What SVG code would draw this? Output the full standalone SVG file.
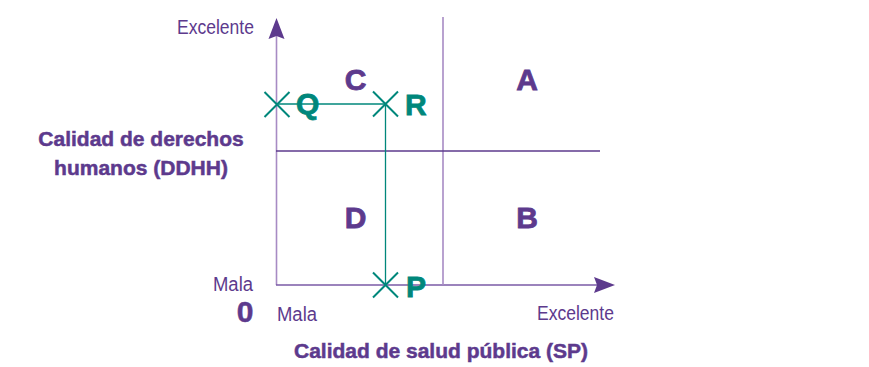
<svg xmlns="http://www.w3.org/2000/svg" width="869" height="367" viewBox="0 0 869 367">
<style>
.t{font-family:"Liberation Sans",Arial,sans-serif;fill:#5d3a8d}
.lt{font-size:20px}
.b{font-weight:bold;stroke:#5d3a8d;stroke-width:0.5}
.q{font-family:"Liberation Sans",Arial,sans-serif;font-weight:bold;font-size:30px;fill:#5d3a8d;stroke:#5d3a8d;stroke-width:0.8}
.tl{font-family:"Liberation Sans",Arial,sans-serif;font-weight:bold;font-size:30px;fill:#00877b;stroke:#00877b;stroke-width:0.8}
.mk{stroke:#00877b;stroke-width:2;fill:none}
.tline{stroke:#00877b;stroke-width:1.3;fill:none}
</style>
<rect width="869" height="367" fill="#fff"/>
<g id="axes">
<line x1="276.5" y1="36" x2="276.5" y2="285" stroke="#a78bc4" stroke-width="1.6"/>
<path d="M276.5 18 L284.5 39 L276.5 36 L268.5 39 Z" fill="#5d3a8d"/>
<line x1="276" y1="285" x2="598" y2="285" stroke="#7a5aa6" stroke-width="1.6"/>
<path d="M615 285 L594 277 L597 285 L594 293 Z" fill="#5d3a8d"/>
<line x1="443" y1="17" x2="443" y2="285" stroke="#a78bc4" stroke-width="1.6"/>
<line x1="276" y1="151" x2="600" y2="151" stroke="#5d3a8d" stroke-width="1.3"/>
</g>
<g id="connectors">
<line class="tline" x1="277" y1="104" x2="385.5" y2="104"/>
<line class="tline" x1="385.5" y1="104" x2="385.5" y2="285"/>
</g>
<g id="node-Q">
<path class="mk" d="M264.5 92 L289.5 117 M289.5 92 L264.5 117"/>
<text class="tl" x="296" y="114">Q</text>
</g>
<g id="node-R">
<path class="mk" d="M373 91.5 L398 116.5 M398 91.5 L373 116.5"/>
<text class="tl" x="405" y="115">R</text>
</g>
<g id="node-P">
<path class="mk" d="M373 272.5 L398 297.5 M398 272.5 L373 297.5"/>
<text class="tl" x="406" y="297">P</text>
</g>
<g id="quadrants">
<text class="q" x="355.5" y="90" text-anchor="middle">C</text>
<text class="q" x="527" y="90" text-anchor="middle">A</text>
<text class="q" x="355.5" y="228" text-anchor="middle">D</text>
<text class="q" x="527" y="228" text-anchor="middle">B</text>
</g>
<g id="labels">
<text class="t lt" x="177" y="34" textLength="77" lengthAdjust="spacingAndGlyphs">Excelente</text>
<text class="t b" x="141" y="146" font-size="21" text-anchor="middle">Calidad de derechos</text>
<text class="t b" x="141" y="175" font-size="21" text-anchor="middle">humanos (DDHH)</text>
<text class="t lt" x="213" y="291" textLength="40" lengthAdjust="spacingAndGlyphs">Mala</text>
<text class="t b" x="245" y="322" font-size="30" text-anchor="middle">0</text>
<text class="t lt" x="277" y="321" textLength="40" lengthAdjust="spacingAndGlyphs">Mala</text>
<text class="t lt" x="537" y="320" textLength="77" lengthAdjust="spacingAndGlyphs">Excelente</text>
<text class="t b" x="441" y="358" font-size="21" text-anchor="middle">Calidad de salud pública (SP)</text>
</g>
</svg>
